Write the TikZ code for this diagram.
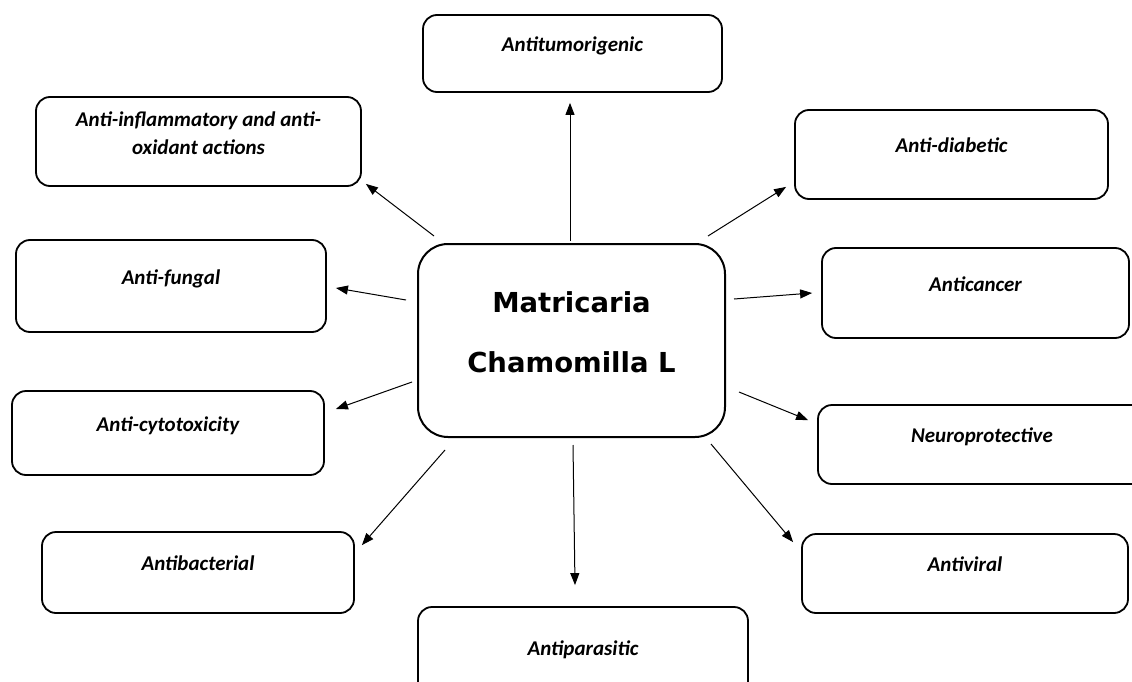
\documentclass[tikz,border=0pt]{standalone}
\usepackage{fontspec}
\setmainfont{Carlito}
\newfontfamily\titlefont{DejaVu Sans}
\usetikzlibrary{arrows.meta,calc}
\tikzset{
	box/.style={draw, line width=1.8pt, rounded corners=14pt, inner sep=0pt,
		font=\bfseries\itshape\fontsize{21}{28}\selectfont},
	effect/.style={box, text height=14pt, text depth=18pt},
	hub/.style={draw, line width=2pt, rounded corners=30pt, inner sep=0pt, align=center,
		font=\titlefont\bfseries\fontsize{27.5}{60}\selectfont},
	arr/.style={-{Triangle[length=12pt,width=9pt]}, line width=1pt}
}
\begin{document}
\begin{tikzpicture}[x=1pt,y=-1pt]
		\clip (0,0) rectangle (1132,682);
		\node[hub, minimum width=307pt, minimum height=193pt] (mc) at (571.5,340.5) {Matricaria\\Chamomilla L\rule[-16pt]{0pt}{0pt}};
		\node[effect, minimum width=299pt, minimum height=77pt] (at) at (572.5,53.5) {Antitumorigenic};
		\node[box, align=center, minimum width=325pt, minimum height=89pt] (ai) at (198.5,141.5) {Anti-inflammatory and anti-\\oxidant actions\rule[-16pt]{0pt}{0pt}};
		\node[effect, minimum width=313pt, minimum height=89pt] (ad) at (951.5,154.5) {Anti-diabetic};
		\node[effect, minimum width=310pt, minimum height=92pt] (af) at (171,286) {Anti-fungal};
		\node[effect, minimum width=307pt, minimum height=90pt] (ac) at (975.5,293) {Anticancer};
		\node[effect, minimum width=312pt, minimum height=84pt] (acy) at (168,433) {Anti-cytotoxicity};
		\node[effect, minimum width=328pt, minimum height=79pt] (np) at (982,444.5) {Neuroprotective};
		\node[effect, minimum width=312pt, minimum height=81pt] (ab) at (198,572.5) {Antibacterial};
		\node[effect, minimum width=326pt, minimum height=79pt] (av) at (965,573.5) {Antiviral};
		\node[effect, minimum width=330pt, minimum height=100pt] (ap) at (583,657) {Antiparasitic};
		\draw[arr] ($(mc.north)+(-1.5,-2)$) -- ($(at.south)+(-2.5,10)$);
		\draw[arr] ($(mc.north west)+(17,-7)$) -- ($(ai.south east)+(4,-3)$);
		\draw[arr] ($(mc.north east)+(-18,-7)$) -- ($(ad.south west)+(-8,-13)$);
		\draw[arr] ($(mc.west)+(-11,-40.5)$) -- ($(af.east)+(9,2)$);
		\draw[arr] ($(mc.east)+(8,-41.5)$) -- ($(ac.west)+(-9,0)$);
		\draw[arr] ($(mc.west)+(-5,41.5)$) -- ($(acy.east)+(11,-24)$);
		\draw[arr] ($(mc.east)+(13,51.5)$) -- ($(np.north west)+(-9,16)$);
		\draw[arr] ($(mc.south west)+(28,12)$) -- ($(ab.north east)+(7,14)$);
		\draw[arr] ($(mc.south)+(1.5,7)$) -- ($(ap.north)+(-8,-21)$);
		\draw[arr] ($(mc.south east)+(-15,6)$) -- ($(av.north west)+(-8,9)$);
	\end{tikzpicture}
\end{document}
